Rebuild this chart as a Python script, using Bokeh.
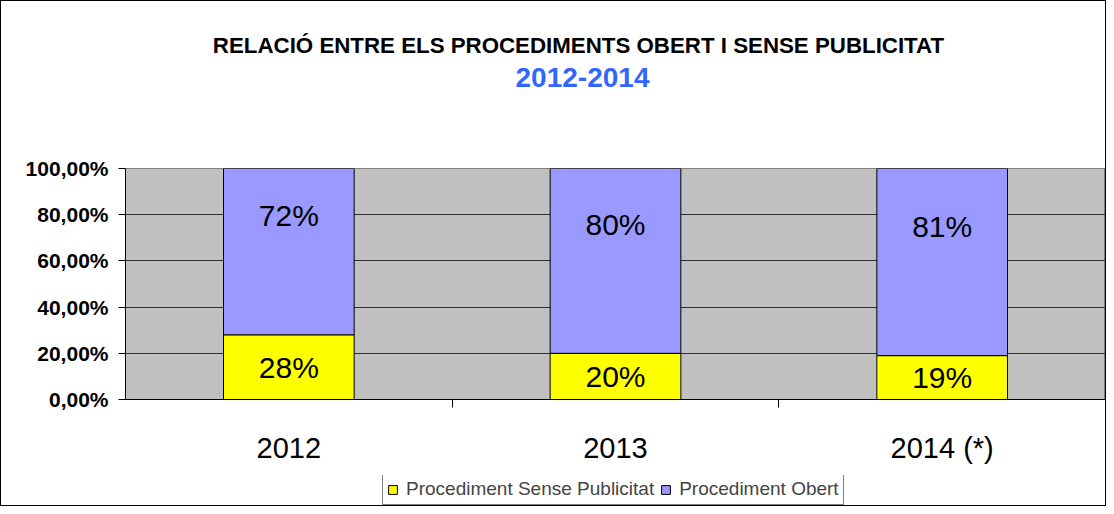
from bokeh.plotting import figure
from bokeh.layouts import column
from bokeh.models import Range1d, FixedTicker, Label, Legend, LegendItem, ColumnDataSource
from bokeh.core.properties import value
from bokeh.embed import file_html
from bokeh.resources import INLINE

categories = ["2012", "2013", "2014 (*)"]
sense_publicitat = [28, 20, 19]
obert = [72, 80, 81]
y_ticks = [0, 20, 40, 60, 80, 100]
series_names = ["Procediment Sense Publicitat", "Procediment Obert"]
title_text = "RELACIÓ ENTRE ELS PROCEDIMENTS OBERT I SENSE PUBLICITAT"
subtitle_text = "2012-2014"

FONT = "Liberation Sans"
YELLOW = "#FFFF00"
BLUE = "#9999FF"
W = 1104
LEFT = 124  # left border of the plot frame (frames are aligned inside the column)

# ---------- title strip (x range maps 1:1 to canvas pixels) ----------
TH = 150
ft = figure(width=W, height=TH, output_backend="svg", toolbar_location=None,
            x_range=Range1d(LEFT, W), y_range=Range1d(0, TH),
            x_axis_location=None, y_axis_location=None,
            min_border_left=LEFT, min_border_right=0, min_border_top=0, min_border_bottom=0)
ft.outline_line_color = None
ft.grid.visible = False
ft.add_layout(Label(x=577, y=TH - 44, text=title_text, text_font=FONT, text_font_style="bold",
                    text_font_size="22.3px", text_align="center", text_baseline="middle",
                    text_color="black"))
ft.add_layout(Label(x=581, y=TH - 76, text=subtitle_text, text_font=FONT, text_font_style="bold",
                    text_font_size="28px", text_align="center", text_baseline="middle",
                    text_color="#3366FF"))

# ---------- main chart ----------
x = [i + 0.5 for i in range(len(categories))]
tops = [a + b for a, b in zip(sense_publicitat, obert)]

src = ColumnDataSource(dict(
    x=x, s=sense_publicitat, o=obert, top=tops,
    s_lbl=[f"{v}%" for v in sense_publicitat],
    o_lbl=[f"{v}%" for v in obert],
    s_mid=[v / 2 for v in sense_publicitat],
    o_mid=[a + b / 2 for a, b in zip(sense_publicitat, obert)],
    zero=[0] * len(x),
))

p = figure(width=W, height=324, output_backend="svg", toolbar_location=None,
           x_range=Range1d(0, len(categories)), y_range=Range1d(0, 100),
           min_border_left=LEFT, min_border_right=0, min_border_top=17, min_border_bottom=76)
p.background_fill_color = "#C0C0C0"
p.border_fill_color = "white"
p.outline_line_color = "#808080"

r1 = p.vbar(x="x", bottom="zero", top="s", width=0.4, source=src,
            fill_color=YELLOW, line_color="black", line_width=1)
r2 = p.vbar(x="x", bottom="s", top="top", width=0.4, source=src,
            fill_color=BLUE, line_color="black", line_width=1)

p.text(x="x", y="s_mid", text="s_lbl", source=src, text_font=value(FONT),
       text_font_size="30px", text_align="center", text_baseline="middle", text_color="black")
p.text(x="x", y="o_mid", text="o_lbl", source=src, text_font=value(FONT),
       text_font_size="30px", text_align="center", text_baseline="middle", text_color="black",
       y_offset=-36)

p.xgrid.visible = False
p.ygrid.ticker = FixedTicker(ticks=y_ticks)
p.ygrid.grid_line_color = "#303030"
p.ygrid.grid_line_width = 1

ya = p.yaxis[0]
ya.ticker = FixedTicker(ticks=y_ticks)
ya.major_label_overrides = {t: f"{t},00%" for t in y_ticks}
ya.major_label_text_font = FONT
ya.major_label_text_font_style = "bold"
ya.major_label_text_font_size = "21px"
ya.major_label_text_color = "black"
ya.major_tick_out = 7
ya.major_tick_in = 0
ya.minor_tick_out = 0
ya.minor_tick_in = 0
ya.axis_line_color = "black"
ya.major_tick_line_color = "black"
ya.major_label_standoff = 10

xa = p.xaxis[0]
xa.ticker = FixedTicker(ticks=x, minor_ticks=[1, 2, 3])
xa.major_label_overrides = {xv: c for xv, c in zip(x, categories)}
xa.major_label_text_font = FONT
xa.major_label_text_font_size = "29px"
xa.major_label_text_color = "black"
xa.major_tick_out = 0
xa.major_tick_in = 0
xa.minor_tick_out = 8
xa.minor_tick_in = 0
xa.minor_tick_line_color = "black"
xa.axis_line_color = "black"
xa.major_label_standoff = 24

# ---------- legend strip ----------
LH = 30
fl = figure(width=W, height=LH, output_backend="svg", toolbar_location=None,
            x_range=Range1d(-11, -10), y_range=Range1d(200, 201),
            x_axis_location=None, y_axis_location=None,
            min_border_left=LEFT, min_border_right=0, min_border_top=0, min_border_bottom=0)
fl.outline_line_color = None
fl.grid.visible = False
# same data, outside this strip's visible range: only used to draw legend swatches
l1 = fl.vbar(x="x", bottom="zero", top="s", width=0.4, source=src, fill_color=YELLOW, line_color="black")
l2 = fl.vbar(x="x", bottom="s", top="top", width=0.4, source=src, fill_color=BLUE, line_color="black")
legend = Legend(items=[LegendItem(label=series_names[0], renderers=[l1]),
                       LegendItem(label=series_names[1], renderers=[l2])],
                orientation="horizontal", location=(257, 0),
                label_text_font=FONT, label_text_font_size="19px",
                glyph_width=11, glyph_height=11, label_standoff=8, spacing=6,
                padding=4, margin=0, border_line_color="black", border_line_width=1,
                background_fill_color="white", background_fill_alpha=1)
fl.add_layout(legend, "center")

layout = column(ft, p, fl, spacing=0)
layout.styles = {"border": "1px solid black"}

open("out.html", "w").write(file_html(layout, INLINE))
